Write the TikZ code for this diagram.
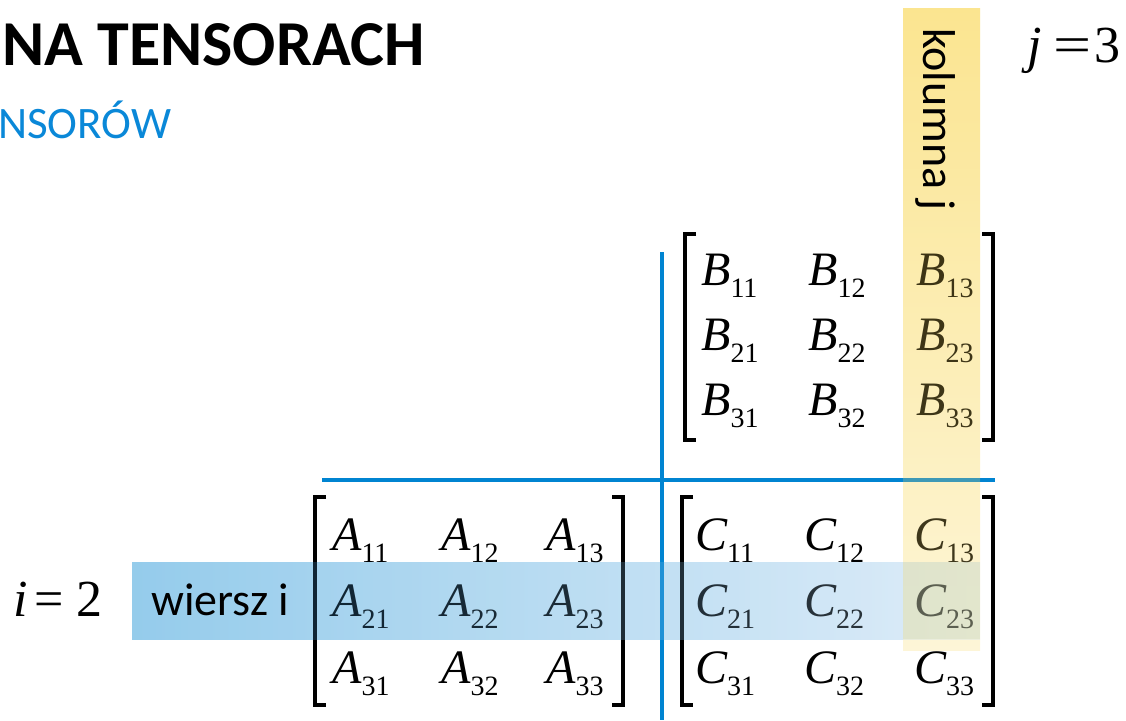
\documentclass[tikz,border=0pt]{standalone}
\usepackage{fontspec}
\usepackage{graphicx}
\setmainfont{Liberation Serif}
\newfontfamily\calib{Carlito}
\definecolor{lineblue}{RGB}{0,132,209}
\definecolor{titleblue}{RGB}{10,136,216}
% underlay (opaque) band colours
\definecolor{yelUtop}{RGB}{255,239,173}
\definecolor{yelUbot}{RGB}{255,253,247}
\definecolor{bluUl}{RGB}{189,229,248}
\definecolor{bluUr}{RGB}{229,241,251}
\definecolor{mixU}{RGB}{236,238,220}
% overlay (tinting) band colours
\definecolor{yelOtop}{RGB}{240,200,60}
\definecolor{yelObot}{RGB}{250,225,120}
\definecolor{bluOl}{RGB}{30,130,200}
\definecolor{bluOr}{RGB}{190,220,240}
\newcommand\ent[2]{{\itshape #1}\raisebox{-12pt}{\fontsize{28}{28}\selectfont #2}}
\begin{document}
\begin{tikzpicture}[x=1pt,y=-1pt,
  ent/.style={anchor=base west, inner sep=0, font=\fontsize{48}{48}\selectfont},
  brk/.style={line width=4pt, line cap=butt, line join=miter},
  sep/.style={draw=lineblue, line width=3.5pt},
  lab/.style={inner sep=0, font=\calib\fontsize{46}{46}\selectfont},
  eq/.style={anchor=base west, inner sep=0, font=\fontsize{52}{52}\selectfont}]
\useasboundingbox (0,0) rectangle (1126,720);
% title texts
\node[anchor=base west, inner sep=0, font=\calib\bfseries\fontsize{64}{64}\selectfont] (title) at (2,65) {NA TENSORACH};
\node[anchor=base west, inner sep=0, text=titleblue, font=\calib\fontsize{45}{45}\selectfont] (sub) at (-2,138) {NSORÓW};
% band underlays
\shade[top color=yelUtop, bottom color=yelUbot] (903,8) rectangle (980,650);
\shade[left color=bluUl, right color=bluUr] (132,562) rectangle (903,639);
\fill[mixU] (903,562) rectangle (980,639);
% separator lines
\coordinate (vt) at (662,252);
\coordinate (vb) at (662,720);
\coordinate (hl) at (322,480);
\coordinate (hr) at (995,480);
\draw[sep] (vt) -- (vb);
\draw[sep] (hl) -- (hr);
% B matrix
\foreach \r/\y in {1/285,2/350,3/415}{
  \foreach \c/\x in {1/701,2/808,3/916}{
    \node[ent] (b\r\c) at (\x,\y) {\ent{B}{\r\c}};
  }
}
% C matrix
\foreach \r/\y in {1/550,2/616.5,3/683}{
  \foreach \c/\x in {1/695,2/804,3/914}{
    \node[ent] (c\r\c) at (\x,\y) {\ent{C}{\r\c}};
  }
}
% A matrix
\foreach \r/\y in {1/550,2/616.5,3/683}{
  \foreach \c/\x in {1/332,2/441,3/546}{
    \node[ent] (a\r\c) at (\x,\y) {\ent{A}{\r\c}};
  }
}
% brackets
\draw[brk] (696,234) -- (685,234) -- (685,440) -- (696,440);
\draw[brk] (982,234) -- (993,234) -- (993,440) -- (982,440);
\draw[brk] (693,497) -- (682,497) -- (682,705) -- (693,705);
\draw[brk] (982,497) -- (993,497) -- (993,705) -- (982,705);
\draw[brk] (326,497) -- (315,497) -- (315,705) -- (326,705);
\draw[brk] (612,497) -- (623,497) -- (623,705) -- (612,705);
% band overlays (tint the entries below)
\shade[top color=yelOtop, bottom color=yelObot, opacity=0.25] (903,8) rectangle (980,650);
\shade[left color=bluOl, right color=bluOr, opacity=0.25] (132,562) rectangle (980,639);
% labels
\node[lab, rotate=-90, anchor=base west] (kol) at (923,28) {kolumna j};
\node[lab, anchor=base west] (wier) at (151,615) {wiersz i};
\node[eq] (jeq) at (1027,62) {\textit{j}\kern12pt\scalebox{1.3}[1]{=}\kern3pt 3};
\node[eq] (ieq) at (13,616) {\textit{i}\kern7pt=\kern13pt 2};
\end{tikzpicture}
\end{document}
